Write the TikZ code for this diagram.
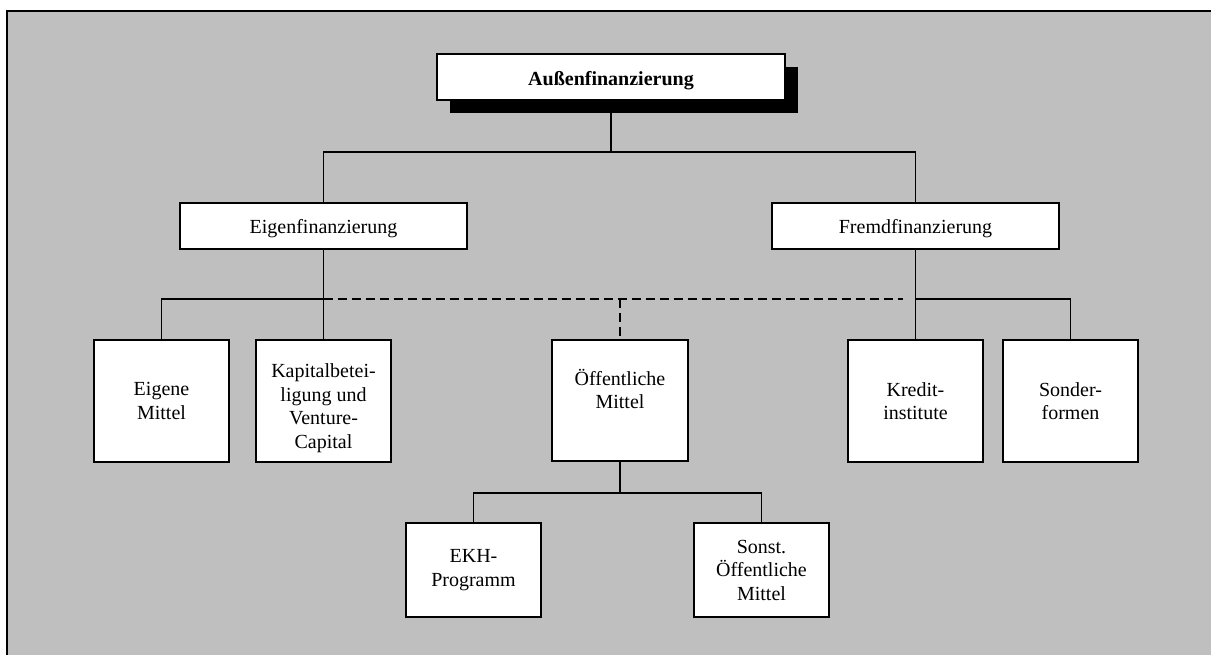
\documentclass[tikz,border=0pt]{standalone}
\usepackage{fontspec}
\setmainfont{Liberation Serif}
\usetikzlibrary{shadows}
\definecolor{panel}{RGB}{191,191,191}
\begin{document}
\begin{tikzpicture}[x=1pt,y=-1pt,
  txt/.style={inner sep=0pt, align=center, font=\fontsize{20}{23.5}\selectfont},
  box/.style={txt, draw=black, line width=1.9pt, fill=white},
  headbox/.style={box, minimum width=287pt, minimum height=46pt, text height=16pt, text depth=2pt},
  leafbox/.style={box, minimum width=135pt, minimum height=122pt},
  subbox/.style={box, minimum width=135pt, minimum height=94pt},
  link/.style={line width=1.9pt},
  hint/.style={line width=2.2pt, dash pattern=on 9pt off 5pt}
]
\path[use as bounding box] (0,0) rectangle (1211,654);
\clip (0,0) rectangle (1211,654);
% grey panel with frame
\draw[line width=1.9pt, fill=panel] (7,11) rectangle (1240,680);

% root
\node[box, minimum width=348pt, minimum height=46pt, text height=18pt, text depth=2pt,
  font=\fontsize{20}{23.5}\selectfont\bfseries,
  drop shadow={shadow xshift=12.5pt, shadow yshift=-12.5pt, fill=black, opacity=1}]
  (root) at (611,77) {Außenfinanzierung};

% second level
\node[headbox] (eigen) at (323.5,226) {Eigenfinanzierung};
\node[headbox] (fremd) at (915.5,226) {Fremdfinanzierung};

% third level
\node[leafbox] (eigene) at (161.5,401) {Eigene\\Mittel};
\node[leafbox] (kapital) at (323.5,401) {};
\node[txt] (kapitalText) at (323.5,408) {Kapitalbetei-\\ligung und\\Venture-\\Capital};
\node[leafbox, minimum width=136pt, minimum height=121pt] (oeff) at (620,400.5) {Öffentliche\\Mittel\\~};
\node[leafbox] (kredit) at (915.5,401) {Kredit-\\institute};
\node[leafbox] (sonder) at (1070.5,401) {Sonder-\\formen};

% fourth level
\node[subbox] (ekh) at (473.5,570) {EKH-\\Programm};
\node[subbox] (sonst) at (761.5,570) {Sonst.\\Öffentliche\\Mittel};

% junctions
\coordinate (j1) at (611,152);
\coordinate (j2) at (323.5,299);
\coordinate (j3) at (915.5,299);
\coordinate (j4) at (620,493);
\coordinate (dEnd) at (903,299);

% connectors
\draw[link] (root.south) -- (j1);
\draw[link] (eigen.north) |- (j1) -| (fremd.north);
\draw[link] (eigen.south) -- (kapital.north);
\draw[link] (eigene.north) |- (j2);
\draw[link] (fremd.south) -- (kredit.north);
\draw[link] (j3) -| (sonder.north);
\draw[hint] (j2) -- (dEnd);
\draw[hint] (oeff.north |- j2) -- (oeff.north);
\draw[link] (oeff.south) -- (j4);
\draw[link] (ekh.north) |- (j4) -| (sonst.north);
\end{tikzpicture}
\end{document}
